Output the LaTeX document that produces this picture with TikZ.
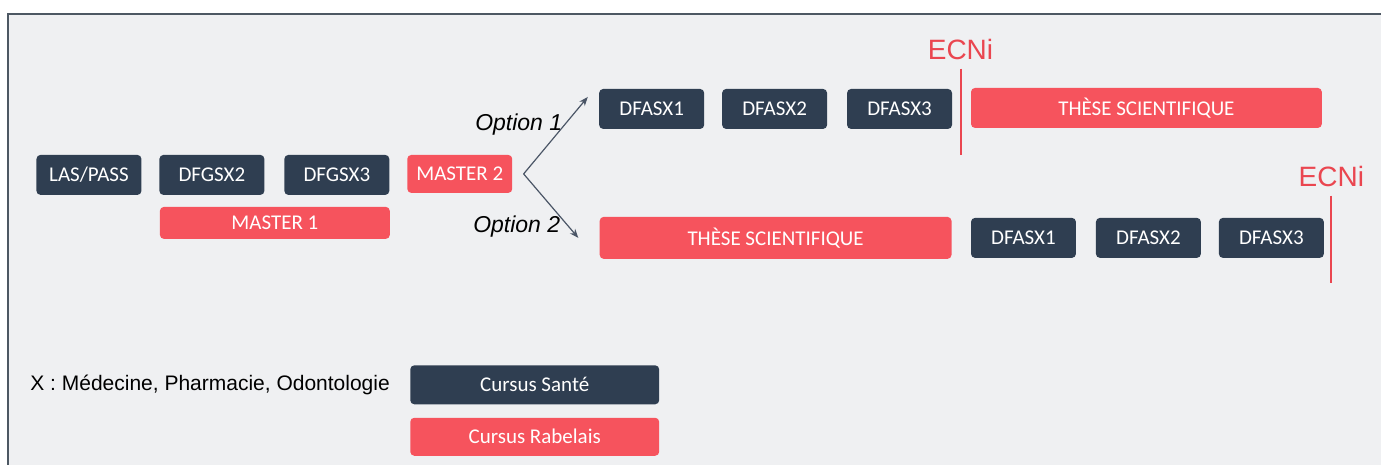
\documentclass[tikz,border=0pt]{standalone}
\usepackage{fontspec}
\setmainfont{Liberation Sans}
\newfontfamily\boxfont{Carlito}
\usetikzlibrary{arrows.meta}

\definecolor{navy}{HTML}{2F3E51}
\definecolor{redbox}{HTML}{F6535D}
\definecolor{redline}{HTML}{EA4650}
\definecolor{panel}{HTML}{EFF0F2}
\definecolor{framegray}{HTML}{4D5863}
\definecolor{arrowgray}{HTML}{4A5566}

\tikzset{
  cursus/.style={rounded corners=2pt, text=white, inner sep=0pt,
    font=\boxfont\fontsize{10.5}{12}\selectfont, minimum height=20pt},
  sante/.style={cursus, fill=navy, minimum width=52.5pt},
  rabelais/.style={cursus, fill=redbox},
  ecni/.style={text=redline, inner sep=0pt, font=\fontsize{14}{16}\selectfont},
  ecnline/.style={draw=redline, line width=1pt},
  option/.style={inner sep=0pt, font=\itshape\fontsize{11.5}{13}\selectfont},
  fork/.style={draw=arrowgray, line width=0.6pt, -{Stealth[length=4.5pt,width=3.5pt]}},
}

\begin{document}
\begin{tikzpicture}[x=0.5pt,y=-0.5pt]

\fill[white] (0,0) rectangle (1382,465);
\fill[panel] (8,14) rectangle (1382,465);
\draw[framegray, line width=0.7pt] (8,465) -- (8,14) -- (1382,14);

% tronc commun
\node[sante] (pass) at (89,175) {LAS/PASS};
\node[sante] (g2) at (212,175) {DFGSX2};
\node[sante] (g3) at (337,175) {DFGSX3};
\node[rabelais, minimum width=52.5pt, minimum height=19pt] (m2) at (460,174) {MASTER 2};
\node[rabelais, minimum width=115pt, minimum height=16pt] (m1) at (275,223) {MASTER 1};

% option 1
\node[sante] (a1) at (652,109) {DFASX1};
\node[sante] (a2) at (775,109) {DFASX2};
\node[sante] (a3) at (900,109) {DFASX3};
\node[rabelais, minimum width=175.5pt] (ta) at (1147,108) {THÈSE SCIENTIFIQUE};
\node[ecni] (e1) at (961,50) {ECNi};
\draw[ecnline] ([yshift=-4pt]e1.south) -- ++(0,86);

% option 2
\node[rabelais, minimum width=176pt, minimum height=21pt] (tb) at (776,238) {THÈSE SCIENTIFIQUE};
\node[sante] (b1) at (1024,238) {DFASX1};
\node[sante] (b2) at (1149,238) {DFASX2};
\node[sante] (b3) at (1272,238) {DFASX3};
\node[ecni] (e2) at (1332,177) {ECNi};
\draw[ecnline] ([yshift=-4pt]e2.south) -- ++(0,87);

% bifurcation
\coordinate (split) at ([xshift=5.5pt]m2.east);
\draw[fork] (split) -- ([xshift=-5.5pt,yshift=6pt]a1.west);
\draw[fork] (split) -- ([xshift=-10.5pt]tb.west);
\node[option] (o1) at (519,125) {Option 1};
\node[option] (o2) at (517,227) {Option 2};

% legende
\node[anchor=west, inner sep=0pt, font=\fontsize{10.5}{12}\selectfont] (leg) at (30,385) {X : Médecine, Pharmacie, Odontologie};
\node[sante, minimum width=124.5pt, minimum height=19.5pt] (ls) at (535,385) {Cursus Santé};
\node[rabelais, minimum width=124.5pt, minimum height=19pt] (lr) at (535,437) {Cursus Rabelais};
\end{tikzpicture}
\end{document}
